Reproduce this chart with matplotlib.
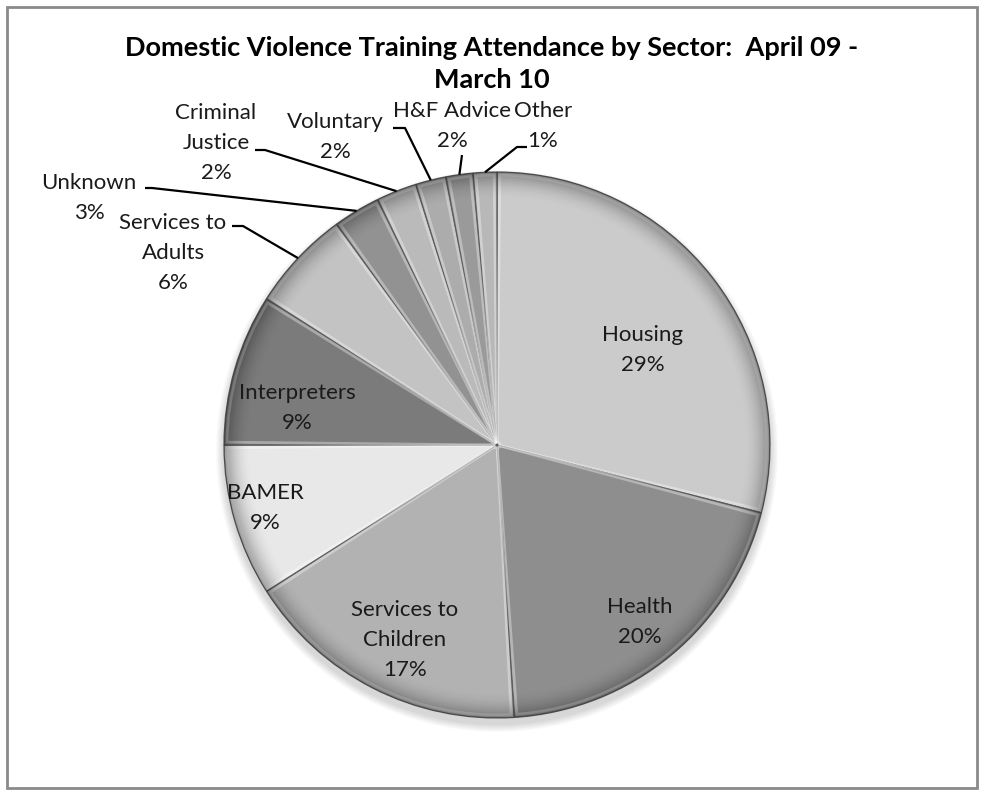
import numpy as np
import matplotlib
matplotlib.use("Agg")
import matplotlib.pyplot as plt
from matplotlib.patches import Circle, Rectangle, Wedge

# data (shares of attendance, %)
sectors = ["Housing", "Health", "Services to\nChildren", "BAMER", "Interpreters",
           "Services to\nAdults", "Unknown", "Criminal\nJustice", "Voluntary",
           "H&F Advice", "Other"]
shares = [29, 20, 17, 9, 9, 6, 2.8, 2.4, 1.8, 1.6, 1.4]
greys = ["#cbcbcb", "#8e8e8e", "#b2b2b2", "#e8e8e8", "#7b7b7b",
         "#c3c3c3", "#929292", "#bababa", "#acacac", "#9a9a9a", "#b8b8b8"]

title = "Domestic Violence Training Attendance by Sector:  April 09 -\nMarch 10"

W, H = 985, 792
cx, cy, R = 497, H - 445, 273

# label layout, pixel coords (y from top)
label_pos = [(643, 350), (640, 622), (405, 640), (265, 508), (297, 408),
             (173, 253), (89, 198), (216, 143), (335, 137), (452, 126), (543, 126)]
# leader line start points (text end, elbow) for outside labels
leaders = {5: [(232, 226), (243, 226)],
           6: [(145, 188), (152, 188)],
           7: [(255, 150), (265, 150)],
           8: [(393, 128), (405, 128)],
           9: [(462, 155)],
           10: [(527, 147), (517, 147)]}

plt.rcParams["font.family"] = ["Lato", "DejaVu Sans"]

fig = plt.figure(figsize=(W / 100, H / 100), dpi=100)
ax = fig.add_axes([0, 0, 1, 1])

# soft shadow under the pie
for i in range(8):
    ax.add_patch(Circle((cx, cy - 6), R + 8 - i, color="black", alpha=0.018, lw=0, zorder=0))

wedges, _ = ax.pie(shares, colors=greys, startangle=90, counterclock=False,
                   center=(cx, cy), radius=R,
                   wedgeprops=dict(edgecolor="#5c5c5c", linewidth=0.9))
for w in wedges:
    w.set_zorder(1)

# bevel highlight along slice borders
for w in wedges:
    ax.add_patch(Wedge((cx, cy), R - 3, w.theta1 + 0.6, w.theta2 - 0.6, width=R - 6,
                       fill=False, edgecolor="white", alpha=0.35, lw=2.0, zorder=2))

# darker rim
yy, xx = np.mgrid[cy + R:cy - R:-1, cx - R:cx + R]
d = np.hypot(xx - cx, yy - cy) / R
rim = np.zeros(d.shape + (4,))
rim[..., 3] = np.clip((d - 0.9) / 0.1, 0, 1) ** 2 * 0.35
im = ax.imshow(rim, extent=(cx - R, cx + R, cy - R, cy + R), zorder=3, interpolation="bilinear")
im.set_clip_path(Circle((cx, cy), R, transform=ax.transData))

# labels
for i, (name, v) in enumerate(zip(sectors, shares)):
    x, y = label_pos[i]
    ax.text(x, H - y, f"{name}\n{round(v)}%", ha="center", va="center",
            fontsize=16, color="#1a1a1a", linespacing=1.6, zorder=5)
    if i in leaders:
        w = wedges[i]
        a = np.deg2rad((w.theta1 + w.theta2) / 2)
        pts = [(px, H - py) for px, py in leaders[i]]
        pts.append((cx + R * np.cos(a), cy + R * np.sin(a)))
        xs, ys = zip(*pts)
        ax.plot(xs, ys, color="black", lw=1.6, zorder=4, solid_capstyle="butt")

ax.text(492, H - 64, title, ha="center", va="center", fontsize=19.5, fontweight="bold",
        linespacing=1.4, color="black")

ax.add_patch(Rectangle((7, 4), W - 15, H - 11, fill=False, edgecolor="#8a8a8a", lw=2))

ax.set_xlim(0, W)
ax.set_ylim(0, H)
ax.set_aspect("equal")
ax.axis("off")

fig.savefig("out.png", dpi=100, facecolor="white")
